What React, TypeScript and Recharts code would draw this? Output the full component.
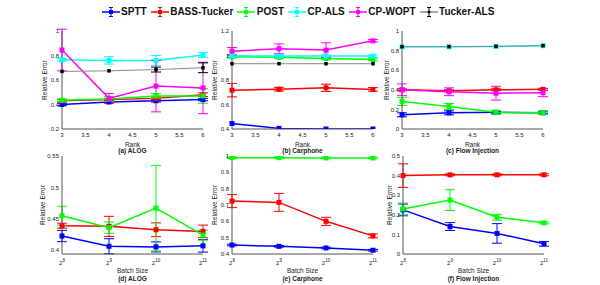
import React from "react";
import { LineChart, Line, XAxis, YAxis, ErrorBar } from "recharts";

const ranks = [3, 4, 5, 6];
const batchExps = [8, 9, 10, 11];
const rankTicks = [3, 3.5, 4, 4.5, 5, 5.5, 6];

// (a) ALOG, relative error vs rank
const alogRankSptt = [0.4, 0.42, 0.43, 0.44];
const alogRankSpttErr = [0.01, 0.01, 0.01, 0.01];
const alogRankBass = [0.43, 0.44, 0.45, 0.48];
const alogRankBassErr = [0.01, 0.01, 0.01, 0.015];
const alogRankPost = [0.435, 0.445, 0.47, 0.47];
const alogRankPostErr = [0.01, 0.02, 0.02, 0.06];
const alogRankCpAls = [0.765, 0.76, 0.76, 0.805];
const alogRankCpAlsErr = [0.01, 0.03, 0.04, 0.02];
const alogRankCpWopt = [0.845, 0.45, 0.55, 0.535];
const alogRankCpWoptErr = [0.17, 0.04, 0.21, 0.21];
const alogRankTucker = [0.67, 0.675, 0.685, 0.7];
const alogRankTuckerErr = [0, 0, 0.02, 0.04];

// (b) Carphone, relative error vs rank
const carRankSptt = [0.445, 0.405, 0.4, 0.4];
const carRankSpttErr = [0, 0, 0, 0];
const carRankBass = [0.717, 0.725, 0.736, 0.723];
const carRankBassErr = [0.055, 0.015, 0.03, 0.015];
const carRankPost = [0.99, 0.985, 0.975, 0.968];
const carRankPostErr = [0.01, 0.01, 0.01, 0.01];
const carRankCpAls = [0.998, 0.995, 0.995, 0.995];
const carRankCpAlsErr = [0.01, 0.01, 0.01, 0.01];
const carRankCpWopt = [1.035, 1.055, 1.044, 1.12];
const carRankCpWoptErr = [0.03, 0.04, 0.06, 0.01];
const carRankTucker = [0.933, 0.933, 0.933, 0.933];
const carRankTuckerErr = [0, 0, 0, 0];

// (c) Flow Injection, relative error vs rank
const flowRankSptt = [0.145, 0.165, 0.17, 0.165];
const flowRankSpttErr = [0.02, 0.02, 0.01, 0.01];
const flowRankBass = [0.4, 0.39, 0.4, 0.405];
const flowRankBassErr = [0.01, 0.01, 0.01, 0.01];
const flowRankPost = [0.28, 0.23, 0.17, 0.167];
const flowRankPostErr = [0.04, 0.03, 0.02, 0.02];
const flowRankCpAls = [0.84, 0.84, 0.843, 0.85];
const flowRankCpAlsErr = [0, 0, 0, 0];
const flowRankCpWopt = [0.4, 0.38, 0.365, 0.37];
const flowRankCpWoptErr = [0.06, 0.04, 0.07, 0.04];
const flowRankTucker = [0.84, 0.84, 0.843, 0.85];
const flowRankTuckerErr = [0, 0, 0, 0];

// (d) ALOG, relative error vs batch size
const alogBatchSptt = [0.4226, 0.4063, 0.4053, 0.407];
const alogBatchSpttErr = [0.009, 0.012, 0.008, 0.01];
const alogBatchBass = [0.439, 0.438, 0.4326, 0.43];
const alogBatchBassErr = [0.004, 0.016, 0.011, 0.01];
const alogBatchPost = [0.455, 0.436, 0.467, 0.424];
const alogBatchPostErr = [0.015, 0.009, 0.068, 0.008];

// (e) Carphone, relative error vs batch size
const carBatchSptt = [0.455, 0.447, 0.437, 0.423];
const carBatchSpttErr = [0.005, 0.005, 0.005, 0.005];
const carBatchBass = [0.724, 0.716, 0.6, 0.511];
const carBatchBassErr = [0.04, 0.055, 0.025, 0.012];
const carBatchPost = [0.99, 0.99, 0.988, 0.988];
const carBatchPostErr = [0.005, 0.005, 0.005, 0.005];

// (f) Flow Injection, relative error vs batch size
const flowBatchSptt = [0.225, 0.14, 0.105, 0.052];
const flowBatchSpttErr = [0.03, 0.02, 0.05, 0.012];
const flowBatchBass = [0.4, 0.404, 0.404, 0.404];
const flowBatchBassErr = [0.06, 0.005, 0.005, 0.005];
const flowBatchPost = [0.23, 0.275, 0.1875, 0.159];
const flowBatchPostErr = [0.03, 0.053, 0.015, 0.005];

const STYLES: Record<string, any> = {
  sptt: { name: "SPTT", color: "#0000ff", line: "#0000ff", size: 5, width: 1.5 },
  bass: { name: "BASS-Tucker", color: "#ff0000", line: "#ff0000", size: 5, width: 1.5 },
  post: { name: "POST", color: "#00ff00", line: "#00ff00", size: 5, width: 1.5 },
  cpals: { name: "CP-ALS", color: "#00ffff", line: "#00ffff", size: 5, width: 1.5 },
  cpwopt: { name: "CP-WOPT", color: "#ff00ff", line: "#ff00ff", size: 5, width: 1.5 },
  tucker: { name: "Tucker-ALS", color: "#000000", line: "#8a8a8a", size: 3.5, width: 1 },
};
const legendOrder = ["sptt", "bass", "post", "cpals", "cpwopt", "tucker"];

function buildRows(xs: number[], series: Record<string, [number[], number[]]>) {
  return xs.map((x, i) => {
    const row: any = { x };
    Object.keys(series).forEach((k) => {
      row[k] = series[k][0][i];
      row[k + "Err"] = series[k][1][i];
    });
    return row;
  });
}

const alogRankData = buildRows(ranks, {
  sptt: [alogRankSptt, alogRankSpttErr],
  bass: [alogRankBass, alogRankBassErr],
  post: [alogRankPost, alogRankPostErr],
  cpals: [alogRankCpAls, alogRankCpAlsErr],
  cpwopt: [alogRankCpWopt, alogRankCpWoptErr],
  tucker: [alogRankTucker, alogRankTuckerErr],
});
const carRankData = buildRows(ranks, {
  sptt: [carRankSptt, carRankSpttErr],
  bass: [carRankBass, carRankBassErr],
  post: [carRankPost, carRankPostErr],
  cpals: [carRankCpAls, carRankCpAlsErr],
  cpwopt: [carRankCpWopt, carRankCpWoptErr],
  tucker: [carRankTucker, carRankTuckerErr],
});
const flowRankData = buildRows(ranks, {
  sptt: [flowRankSptt, flowRankSpttErr],
  bass: [flowRankBass, flowRankBassErr],
  post: [flowRankPost, flowRankPostErr],
  cpals: [flowRankCpAls, flowRankCpAlsErr],
  cpwopt: [flowRankCpWopt, flowRankCpWoptErr],
  tucker: [flowRankTucker, flowRankTuckerErr],
});
const alogBatchData = buildRows(batchExps, {
  sptt: [alogBatchSptt, alogBatchSpttErr],
  bass: [alogBatchBass, alogBatchBassErr],
  post: [alogBatchPost, alogBatchPostErr],
});
const carBatchData = buildRows(batchExps, {
  sptt: [carBatchSptt, carBatchSpttErr],
  bass: [carBatchBass, carBatchBassErr],
  post: [carBatchPost, carBatchPostErr],
});
const flowBatchData = buildRows(batchExps, {
  sptt: [flowBatchSptt, flowBatchSpttErr],
  bass: [flowBatchBass, flowBatchBassErr],
  post: [flowBatchPost, flowBatchPostErr],
});

const squareDot = (color: string, size: number) => (props: any) => {
  const { cx, cy, index } = props;
  if (cx == null || cy == null) return <g key={index} />;
  return (
    <rect key={index} x={cx - size / 2} y={cy - size / 2} width={size} height={size} fill={color} />
  );
};

function PowTick(props: any) {
  const { x, y, payload } = props;
  return (
    <text x={x} y={y} textAnchor="middle" fontSize={6} fill="#222">
      <tspan dy={7}>2</tspan>
      <tspan fontSize={4.5} dy={-3}>{payload.value}</tspan>
    </text>
  );
}

const PW = 141;
const PH = 98;
const ML = 50;
const MT = 6;

function Panel(props: any) {
  const { left, top, data, keys, xDomain, xTicks, yDomain, yTicks, xLabel, caption, batch, yLabelDist } = props;
  const labelTop = batch ? 17 : 15;
  const capTop = batch ? 25 : 21;
  return (
    <>
      <div style={{ position: "absolute", left: left - ML, top: top - MT }}>
        <LineChart
          width={PW + ML + 8}
          height={PH + MT + 22}
          data={data}
          margin={{ top: MT, right: 8, left: 0, bottom: 0 }}
        >
          <XAxis
            dataKey="x"
            type="number"
            domain={xDomain}
            ticks={xTicks}
            interval={0}
            height={22}
            tickSize={0}
            tickMargin={4}
            stroke="#555"
            tick={batch ? <PowTick /> : { fontSize: 6, fill: "#222" }}
          />
          <YAxis
            type="number"
            domain={yDomain}
            ticks={yTicks}
            interval={0}
            allowDataOverflow
            width={ML}
            tickSize={0}
            tickMargin={3}
            stroke="#555"
            tick={{ fontSize: 6, fill: "#222" }}
            label={{
              value: "Relative Error",
              angle: -90,
              position: "insideLeft",
              offset: ML - yLabelDist,
              style: { textAnchor: "middle", fontSize: 6.5, fill: "#222" },
            }}
          />
          {keys.map((k: string) => {
            const s = STYLES[k];
            return (
              <Line
                key={k}
                dataKey={k}
                stroke={s.line}
                strokeWidth={s.width}
                dot={squareDot(s.color, s.size)}
                activeDot={false}
                isAnimationActive={false}
              >
                <ErrorBar dataKey={k + "Err"} width={5} stroke={s.color} strokeWidth={1} direction="y" />
              </Line>
            );
          })}
        </LineChart>
      </div>
      <div
        style={{
          position: "absolute", left, width: PW, top: top + PH + labelTop - 3.5,
          textAlign: "center", fontSize: 6.5, lineHeight: "7px", color: "#222",
        }}
      >
        {xLabel}
      </div>
      <div
        style={{
          position: "absolute", left, width: PW, top: top + PH + capTop - 3.5,
          textAlign: "center", fontSize: 6.5, lineHeight: "7px", fontWeight: "bold", color: "#222",
        }}
      >
        {caption}
      </div>
    </>
  );
}

function LegendRow() {
  return (
    <div
      style={{
        position: "absolute", left: 0, top: 5, width: 600, display: "flex",
        justifyContent: "center", alignItems: "center", fontSize: 10, fontWeight: "bold", color: "#111",
      }}
    >
      {legendOrder.map((k) => {
        const s = STYLES[k];
        return (
          <div key={k} style={{ display: "flex", alignItems: "center", marginRight: 4 }}>
            <svg width={18} height={14}>
              <line x1={0} y1={7} x2={18} y2={7} stroke={s.line} strokeWidth={1.5} />
              <line x1={9} y1={2.5} x2={9} y2={11.5} stroke={s.color} strokeWidth={1} />
              <line x1={7} y1={2.5} x2={11} y2={2.5} stroke={s.color} strokeWidth={1} />
              <line x1={7} y1={11.5} x2={11} y2={11.5} stroke={s.color} strokeWidth={1} />
              <rect x={9 - s.size / 2 + 0.5} y={7 - s.size / 2 + 0.5} width={s.size - 1} height={s.size - 1} fill={s.color} />
            </svg>
            <span style={{ marginLeft: 1.5, lineHeight: "14px" }}>{s.name}</span>
          </div>
        );
      })}
    </div>
  );
}

const allKeys = ["sptt", "bass", "post", "cpals", "cpwopt", "tucker"];
const batchKeys = ["sptt", "bass", "post"];

export default function App() {
  return (
    <div
      style={{
        position: "absolute", left: 0, top: 0, width: 600, height: 285, background: "#fff",
        fontFamily: "'Liberation Sans', Arial, sans-serif", overflow: "hidden",
      }}
    >
      <LegendRow />
      <Panel left={62} top={31} data={alogRankData} keys={allKeys} xDomain={[3, 6]} xTicks={rankTicks}
        yDomain={[0.2, 1]} yTicks={[0.2, 0.4, 0.6, 0.8, 1]} xLabel="Rank" caption="(a) ALOG" yLabelDist={17} />
      <Panel left={232} top={31} data={carRankData} keys={allKeys} xDomain={[3, 6]} xTicks={rankTicks}
        yDomain={[0.4, 1.2]} yTicks={[0.4, 0.6, 0.8, 1, 1.2]} xLabel="Rank" caption="(b) Carphone" yLabelDist={17} />
      <Panel left={402} top={31} data={flowRankData} keys={allKeys} xDomain={[3, 6]} xTicks={rankTicks}
        yDomain={[0, 1]} yTicks={[0, 0.2, 0.4, 0.6, 0.8, 1]} xLabel="Rank" caption="(c) Flow Injection" yLabelDist={15} />
      <Panel left={62} top={155.5} data={alogBatchData} keys={batchKeys} xDomain={[8, 11]} xTicks={batchExps} batch
        yDomain={[0.394, 0.55]} yTicks={[0.4, 0.45, 0.5, 0.55]} xLabel="Batch Size" caption="(d) ALOG" yLabelDist={19} />
      <Panel left={232} top={155.5} data={carBatchData} keys={batchKeys} xDomain={[8, 11]} xTicks={batchExps} batch
        yDomain={[0.4, 1]} yTicks={[0.4, 0.5, 0.6, 0.7, 0.8, 0.9, 1]} xLabel="Batch Size" caption="(e) Carphone" yLabelDist={17} />
      <Panel left={403} top={155.5} data={flowBatchData} keys={batchKeys} xDomain={[8, 11]} xTicks={batchExps} batch
        yDomain={[0, 0.5]} yTicks={[0, 0.1, 0.2, 0.3, 0.4, 0.5]} xLabel="Batch Size" caption="(f) Flow Injection" yLabelDist={13} />
    </div>
  );
}
